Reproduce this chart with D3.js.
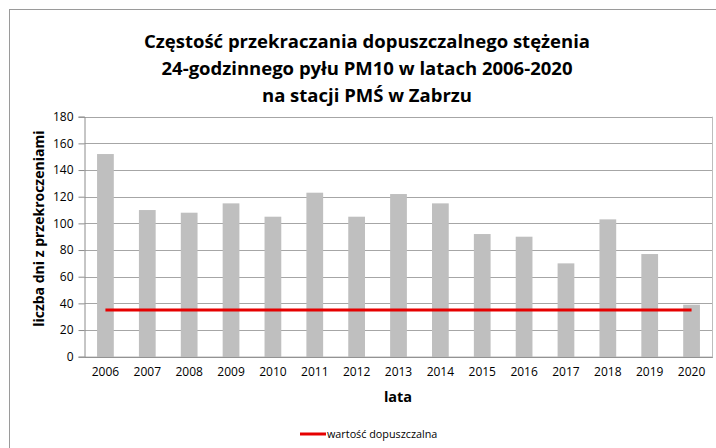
<!DOCTYPE html>
<html>
<head>
<meta charset="utf-8">
<script src="https://cdn.jsdelivr.net/npm/d3@7"></script>
<style>
  body { margin: 0; background: #fff; }
  text { font-family: "Open Sans", sans-serif; fill: #000; }
</style>
</head>
<body>
<div id="chart"></div>
<script>
var years = ["2006", "2007", "2008", "2009", "2010", "2011", "2012", "2013", "2014", "2015", "2016", "2017", "2018", "2019", "2020"];
var exceedDays = [152, 110, 108, 115, 105, 123, 105, 122, 115, 92, 90, 70, 103, 77, 39];
var limitDays = [35, 35, 35, 35, 35, 35, 35, 35, 35, 35, 35, 35, 35, 35, 35];
var yTicks = [0, 20, 40, 60, 80, 100, 120, 140, 160, 180];
var titleLines = ["Częstość przekraczania dopuszczalnego stężenia", "24-godzinnego pyłu PM10 w latach 2006-2020", "na stacji PMŚ w Zabrzu"];

var width = 716, height = 448;
var plot = { left: 84.5, right: 712.5, top: 116.7, bottom: 356.7 };

var svg = d3.select("#chart").append("svg")
    .attr("width", width)
    .attr("height", height);

// outer chart frame (right/bottom run off the picture)
svg.append("rect")
    .attr("x", 9.5).attr("y", 9.5)
    .attr("width", 720).attr("height", 450)
    .attr("fill", "none")
    .attr("stroke", "#9a9a9a");

var x = d3.scaleBand()
    .domain(years)
    .range([plot.left, plot.right])
    .paddingInner(0.6)
    .paddingOuter(0.3);

var y = d3.scaleLinear()
    .domain([0, 180])
    .range([plot.bottom, plot.top]);

// gridlines
svg.append("g")
    .selectAll("line")
    .data(yTicks)
    .join("line")
    .attr("x1", plot.left).attr("x2", plot.right)
    .attr("y1", function (d) { return Math.round(y(d)) + 0.5; })
    .attr("y2", function (d) { return Math.round(y(d)) + 0.5; })
    .attr("stroke", "#a6a6a6");

// right edge of plot
svg.append("line")
    .attr("x1", plot.right).attr("x2", plot.right)
    .attr("y1", plot.top).attr("y2", plot.bottom)
    .attr("stroke", "#bdbdbd");

// y axis
var yAxis = svg.append("g")
    .attr("transform", "translate(" + plot.left + ",0)")
    .call(d3.axisLeft(y).tickValues(yTicks).tickSize(6).tickPadding(5));
yAxis.select(".domain").attr("stroke", "#8c8c8c");
yAxis.selectAll(".tick line").attr("stroke", "#8c8c8c");
yAxis.selectAll("text")
    .style("font-family", "'Open Sans', sans-serif")
    .style("font-size", "12px")
    .attr("fill", "#000");

// bars
svg.append("g")
    .selectAll("rect")
    .data(exceedDays)
    .join("rect")
    .attr("x", function (d, i) { return x(years[i]); })
    .attr("width", x.bandwidth())
    .attr("y", function (d) { return y(d); })
    .attr("height", function (d) { return y(0) - y(d); })
    .attr("fill", "#bfbfbf");

// x axis
var xAxis = svg.append("g")
    .attr("transform", "translate(0," + plot.bottom + ")")
    .call(d3.axisBottom(x).tickSize(0).tickPadding(11));
xAxis.select(".domain").attr("stroke", "#8c8c8c");
xAxis.selectAll("text")
    .style("font-family", "'Open Sans', sans-serif")
    .style("font-size", "12px")
    .attr("fill", "#000");

// limit line
var line = d3.line()
    .x(function (d, i) { return x(years[i]) + x.bandwidth() / 2; })
    .y(function (d) { return y(d); });

svg.append("path")
    .datum(limitDays)
    .attr("d", line)
    .attr("fill", "none")
    .attr("stroke", "#e60000")
    .attr("stroke-width", 3);

// title
svg.append("g")
    .selectAll("text")
    .data(titleLines)
    .join("text")
    .attr("x", 367)
    .attr("y", function (d, i) { return 48 + i * 27; })
    .attr("text-anchor", "middle")
    .style("font-size", "18.5px")
    .style("font-weight", "bold")
    .text(function (d) { return d; });

// axis titles
svg.append("text")
    .attr("transform", "translate(44," + ((plot.top + plot.bottom) / 2 - 8) + ") rotate(-90)")
    .attr("text-anchor", "middle")
    .style("font-size", "14px")
    .style("font-weight", "bold")
    .text("liczba dni z przekroczeniami");

svg.append("text")
    .attr("x", 398)
    .attr("y", 402)
    .attr("text-anchor", "middle")
    .style("font-size", "14.5px")
    .style("font-weight", "bold")
    .text("lata");

// legend
svg.append("line")
    .attr("x1", 300).attr("x2", 326)
    .attr("y1", 434).attr("y2", 434)
    .attr("stroke", "#e60000")
    .attr("stroke-width", 3);
svg.append("text")
    .attr("x", 327)
    .attr("y", 438)
    .style("font-size", "10.8px")
    .text("wartość dopuszczalna");
</script>
</body>
</html>
